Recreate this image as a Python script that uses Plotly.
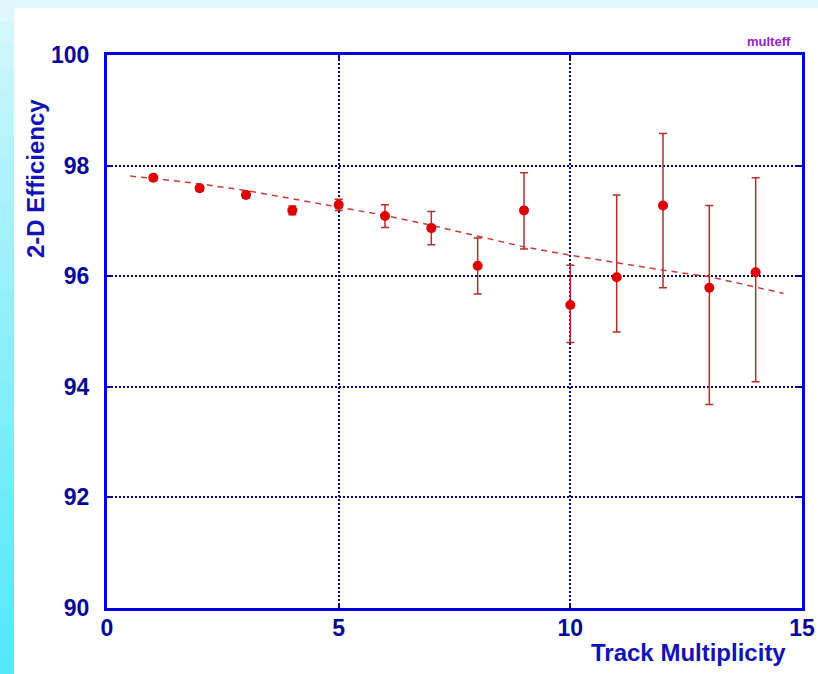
import plotly.graph_objects as go

# ---- data ----
mult = [1, 2, 3, 4, 5, 6, 7, 8, 9, 10, 11, 12, 13, 14]
eff = [97.78, 97.59, 97.47, 97.19, 97.29, 97.09, 96.87, 96.19, 97.19, 95.48, 95.98, 97.28, 95.79, 96.07]
err_up = [0.05, 0.05, 0.06, 0.08, 0.1, 0.2, 0.3, 0.5, 0.68, 0.72, 1.49, 1.3, 1.49, 1.71]
err_dn = [0.05, 0.05, 0.06, 0.08, 0.1, 0.21, 0.3, 0.51, 0.7, 0.68, 0.99, 1.49, 2.11, 1.98]

fit_x = [0.5, 1, 2, 3, 4, 5, 6, 7, 8, 9, 10, 11, 12, 13, 14, 14.6]
fit_y = [97.81, 97.77, 97.67, 97.55, 97.4, 97.25, 97.1, 96.92, 96.72, 96.53, 96.38, 96.24, 96.11, 95.99, 95.8, 95.69]

x_ticks = [0, 5, 10, 15]
y_ticks = [90, 92, 94, 96, 98, 100]

W, H = 818, 674
L, R, T, B = 107, 16, 55, 66
pw, ph = W - L - R, H - T - B

def px(xp):
    return (xp - L) / pw

def py(yp):
    return (H - B - yp) / ph

NAVY = "#06069a"
BLUE = "#0000e0"
TITLE = "#1212b8"
FONT = "Liberation Sans, Arial, sans-serif"

fig = go.Figure()

fig.add_trace(go.Scatter(
    x=fit_x, y=fit_y, mode="lines",
    line=dict(color="#cc3b3b", width=1.5, dash="6px,5px"),
    hoverinfo="skip", showlegend=False,
))

fig.add_trace(go.Scatter(
    x=mult, y=eff, mode="markers",
    marker=dict(color="#dd0000", size=10),
    error_y=dict(type="data", symmetric=False, array=err_up, arrayminus=err_dn,
                 color="#b52c2c", thickness=1.5, width=4),
    showlegend=False,
))

# background: cyan strips with vertical gradient on the left
shapes = []
n = 30
top_c = (220, 248, 252)
bot_c = (84, 232, 250)
for i in range(n):
    f = (i / (n - 1)) ** 0.8
    c = tuple(int(top_c[k] + (bot_c[k] - top_c[k]) * f) for k in range(3))
    y0p = H * i / n
    y1p = H * (i + 1) / n + 1
    shapes.append(dict(type="rect", xref="paper", yref="paper", layer="below",
                       x0=px(0), x1=px(14), y0=py(y1p), y1=py(y0p),
                       line=dict(width=0), fillcolor="rgb(%d,%d,%d)" % c))
shapes.append(dict(type="rect", xref="paper", yref="paper", layer="below",
                   x0=px(14), x1=px(W), y0=py(8), y1=py(0),
                   line=dict(width=0), fillcolor="rgb(222,248,252)"))

annotations = [
    dict(text="<b>2-D Efficiency</b>", xref="paper", yref="paper",
         x=px(35), y=py(179), textangle=-90, showarrow=False,
         font=dict(family=FONT, size=24, color=TITLE),
         xanchor="center", yanchor="middle"),
    dict(text="<b>Track Multiplicity</b>", xref="paper", yref="paper",
         x=px(788), y=py(652), showarrow=False,
         font=dict(family=FONT, size=24, color=TITLE),
         xanchor="right", yanchor="middle"),
    dict(text="<b>multeff</b>", xref="paper", yref="paper",
         x=px(793), y=py(42), showarrow=False,
         font=dict(family=FONT, size=13, color="#9a20c8"),
         xanchor="right", yanchor="middle"),
]

axis_common = dict(
    showline=True, linecolor=BLUE, linewidth=3, mirror="allticks",
    ticks="inside", ticklen=5, tickcolor=NAVY, tickwidth=2,
    showgrid=True, gridcolor="#00007a", gridwidth=2, griddash="2px,2px",
    zeroline=False, automargin=False,
    tickfont=dict(family=FONT, size=23, color=NAVY, weight="bold"),
)

fig.update_xaxes(range=[0, 15], tickvals=x_ticks, ticktext=[str(v) for v in x_ticks],
                 ticklabelstandoff=-3, **axis_common)
fig.update_yaxes(range=[90, 100], tickvals=y_ticks, ticktext=[str(v) for v in y_ticks],
                 ticklabelstandoff=10, **axis_common)

fig.update_layout(
    width=W, height=H,
    margin=dict(l=L, r=R, t=T, b=B),
    paper_bgcolor="white", plot_bgcolor="white",
    shapes=shapes, annotations=annotations,
    showlegend=False,
)

fig.write_html("out.html")
